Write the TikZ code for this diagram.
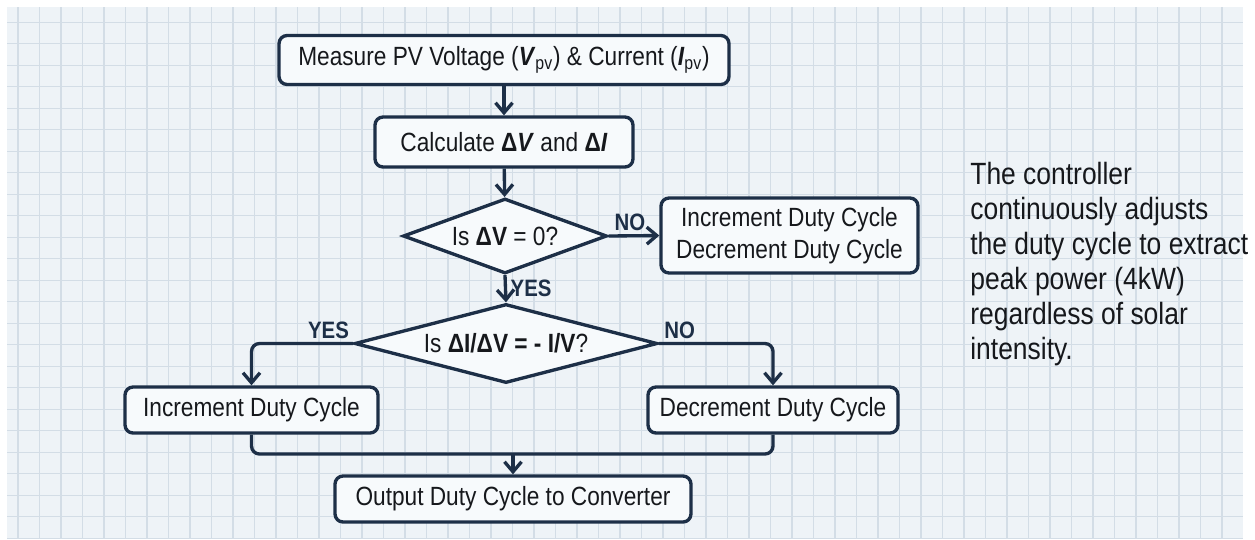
\documentclass[tikz,border=0pt]{standalone}
\usepackage{fontspec}
\setmainfont{Liberation Sans}[FakeStretch=0.86]
\usepackage{xcolor}
\definecolor{FlowNavy}{RGB}{29,47,71}
\definecolor{InkBlack}{RGB}{22,24,28}
\definecolor{BoxFill}{RGB}{247,250,252}
\definecolor{PaperBlue}{RGB}{238,243,247}
\definecolor{GridBlue}{RGB}{211,221,230}
\usepackage{tikz}
\usetikzlibrary{arrows.meta, shapes.geometric, positioning}

\newcommand{\boxfont}{\fontsize{15}{18}\selectfont}
\newcommand{\labelfont}{\fontsize{13.5}{15}\selectfont\bfseries}
\newcommand{\notefont}{\fontsize{17.5}{19.9}\selectfont}

\tikzset{
  stepbox/.style={draw=FlowNavy, fill=BoxFill, rounded corners=0.16cm,
    line width=1.9pt, text=InkBlack, font=\boxfont, inner sep=0pt, align=center},
  decision/.style={diamond, draw=FlowNavy, fill=BoxFill, line width=1.9pt,
    text=InkBlack, font=\boxfont, inner sep=0pt},
  flow/.style={draw=FlowNavy, line width=1.9pt, rounded corners=0.16cm},
  flowarrow/.style={flow, -{Straight Barb[length=0.2cm, width=0.34cm]}},
  branch/.style={font=\labelfont, text=FlowNavy, inner sep=2pt},
  gridline/.style={draw=GridBlue, line width=0.6pt}
}

\begin{document}
\begin{tikzpicture}[x=0.02cm, y=-0.02cm]
\useasboundingbox (0,0) rectangle (1255,539);
\fill[white] (0,0) rectangle (1255,539);
\fill[PaperBlue] (7,7) rectangle (1243,539);
\foreach \gx in {0,...,56}
  \draw[gridline] ({18+21.5*\gx},7) -- ({18+21.5*\gx},539);
\foreach \gy in {0,...,24}
  \draw[gridline] (7,{22.3+21.5*\gy}) -- (1243,{22.3+21.5*\gy});

% main column
\node[stepbox, minimum width=9.0cm, minimum height=0.98cm] (measure) at (504,60)
  {Measure PV Voltage (\textbf{\textit{V}}\textsubscript{pv}) \& Current (\textbf{\textit{I}}\textsubscript{pv})};
\node[stepbox, minimum width=5.16cm, minimum height=1.0cm] (calc) at (504,142)
  {Calculate \textbf{Δ\textit{V}} and \textbf{Δ\textit{I}}};
\node[decision, aspect=2.72, minimum width=4.08cm, minimum height=1.5cm] (zerocheck) at (505,236)
  {Is \textbf{ΔV} = 0?};
\node[stepbox, minimum width=5.14cm, minimum height=1.5cm] (both) at (789.5,235.5)
  {Increment Duty Cycle\\Decrement Duty Cycle};
\node[decision, aspect=3.84, minimum width=6.06cm, minimum height=1.58cm] (slopecheck) at (506,343.5)
  {Is \textbf{ΔI/ΔV = - I/V}?};
\node[stepbox, minimum width=5.06cm, minimum height=0.92cm] (increment) at (251.5,410)
  {Increment Duty Cycle};
\node[stepbox, minimum width=5.0cm, minimum height=0.92cm] (decrement) at (773,410)
  {Decrement Duty Cycle};
\node[stepbox, minimum width=7.12cm, minimum height=0.92cm] (output) at (513,499)
  {Output Duty Cycle to Converter};
\coordinate (join) at (513,454);

\draw[flowarrow] (measure) -- (calc);
\draw[flowarrow] (calc) -- (zerocheck);
\draw[flowarrow] (zerocheck.east) -- node[branch, above, pos=0.42] {NO} (both.west);
\draw[flowarrow] (zerocheck.south) -- node[branch, right] {YES} (slopecheck.north);
\draw[flowarrow] (slopecheck.west) -| node[branch, above, pos=0.12] {YES} (increment.north);
\draw[flowarrow] (slopecheck.east) -| node[branch, above, pos=0.09] {NO} (decrement.north);
\draw[flow] (increment.south) |- (join) -| (decrement.south);
\draw[flowarrow] (join) -- (output.north);

\node[anchor=north west, align=left, font=\notefont, text=InkBlack, inner sep=0pt] (note) at (970,162)
  {The controller\\continuously adjusts\\the duty cycle to extract\\peak power (4kW)\\regardless of solar\\intensity.};
\end{tikzpicture}
\end{document}
